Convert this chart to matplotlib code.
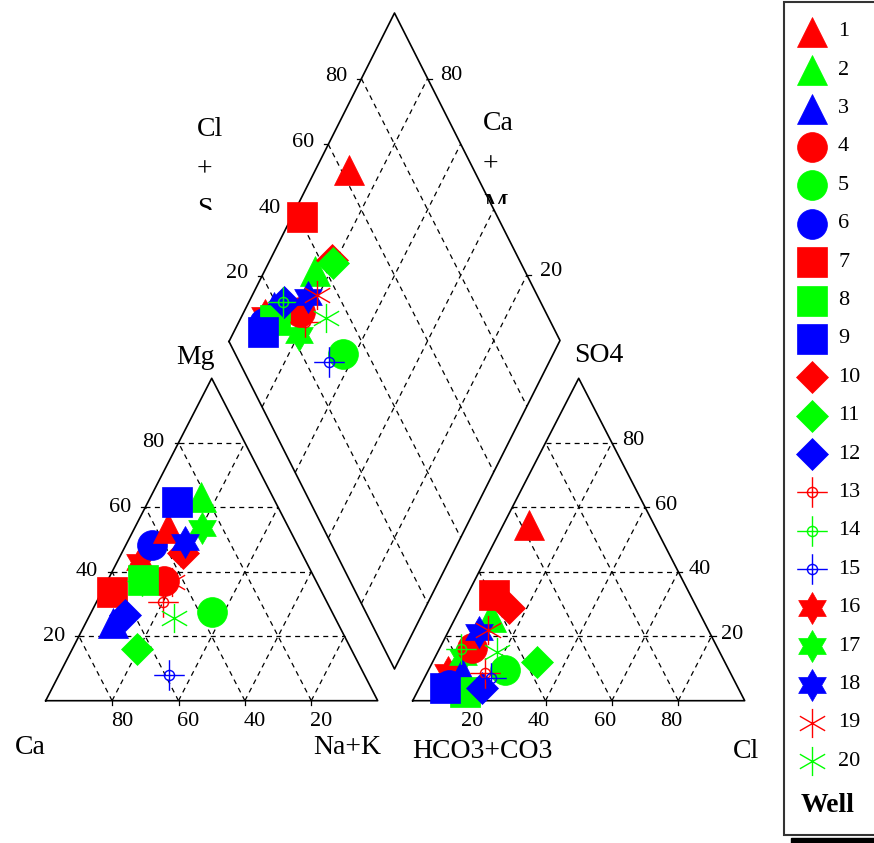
import numpy as np
import matplotlib
matplotlib.use("Agg")
import matplotlib.pyplot as plt
from matplotlib.path import Path
from matplotlib.transforms import Bbox

# Well data (percent of meq)
wells = list(range(1, 21))
mg = [53.5, 63.3, 24.0, 37.0, 27.6, 48.3, 33.8, 37.4, 61.7, 45.7,
      15.9, 26.6, 30.7, 37.0, 8.0, 43.1, 53.5, 49.3, 36.9, 25.6]
nak = [10.2, 15.2, 8.4, 17.0, 36.4, 7.8, 3.0, 10.7, 8.8, 18.6,
       19.7, 10.6, 20.0, 10.4, 33.2, 6.9, 20.3, 17.3, 19.5, 25.9]
so4 = [54.5, 26.0, 8.5, 16.3, 9.5, 5.0, 32.8, 2.8, 3.8, 28.7,
       12.1, 3.8, 8.5, 16.0, 7.0, 9.0, 13.6, 21.4, 21.9, 15.0]
cl = [7.9, 10.5, 10.5, 9.7, 23.0, 8.4, 8.1, 14.4, 7.8, 14.7,
      31.3, 18.9, 17.5, 6.5, 20.0, 6.0, 8.5, 9.3, 11.8, 18.0]
tick_vals = [20, 40, 60, 80]
dia_right_ticks = [20, 80]   # the 40/60 labels are hidden by "Ca + M"

# drawing order of the wells (overlaps)
order = [16, 17, 2, 3, 5, 6, 1, 4, 7, 8, 9, 10, 11, 12, 13, 14, 15, 18, 19, 20]

# ---- layout (pixel space) ----
W, H = 874, 843
LT0, RT0 = (45.7, 700.7), (412.7, 700.7)
TW, TH = 332.0, 322.4
DL, DT, DB = np.array([229.0, 341.5]), np.array([394.5, 13.0]), np.array([394.5, 669.0])
DR = DT + DB - DL

FONT = "Liberation Serif"
colors = ["#ff0000", "#00ff00", "#0000ff"]


def tri_xy(origin, right, top):
    right, top = np.asarray(right) / 100, np.asarray(top) / 100
    return origin[0] + TW * (right + top / 2), origin[1] - TH * top


def dia_xy(a, b):
    a, b = np.asarray(a) / 100, np.asarray(b) / 100
    p = DL[:, None] + np.outer(DT - DL, a) + np.outer(DB - DL, b)
    return p[0], p[1]


# custom markers
ang = np.deg2rad(90 + 30 * np.arange(12))
rad = np.where(np.arange(12) % 2 == 0, 1.0, 0.577)
star = Path(np.c_[rad * np.cos(ang), rad * np.sin(ang)].tolist() + [[0, 1]],
            [Path.MOVETO] + [Path.LINETO] * 11 + [Path.CLOSEPOLY])
cross = Path.make_compound_path(
    Path.circle((0, 0), 0.33),
    Path([(-1, 0), (1, 0)], [Path.MOVETO, Path.LINETO]),
    Path([(0, -1), (0, 1)], [Path.MOVETO, Path.LINETO]))
c30, s30 = np.cos(np.pi / 6), np.sin(np.pi / 6)
aster = Path([(0, -1), (0, 1), (-c30, -s30), (c30, s30), (-c30, s30), (c30, -s30)],
             [Path.MOVETO, Path.LINETO] * 3)

marker_style = {
    "tri": dict(marker="^", ms=22),
    "circ": dict(marker="o", ms=21.5),
    "sq": dict(marker="s", ms=21),
    "dia": dict(marker="D", ms=16),
    "cross": dict(marker=cross, ms=22, mfc="none", mew=1.0),
    "star": dict(marker=star, ms=23),
    "aster": dict(marker=aster, ms=21, mfc="none", mew=1.0),
}
kinds = ["tri", "circ", "sq", "dia", "cross", "star", "aster"]


def style(w):
    k = kinds[(w - 1) // 3]
    st = dict(marker_style[k])
    c = colors[(w - 1) % 3]
    st.setdefault("mfc", c)
    st["mec"] = c
    st.setdefault("mew", 0.5)
    return st


fig = plt.figure(figsize=(W / 100, H / 100), dpi=100)
ax = fig.add_axes([0, 0, 1, 1])
ax.set_xlim(0, W)
ax.set_ylim(H, 0)
ax.axis("off")

edge = dict(color="black", lw=1.2, zorder=2)
grid = dict(color="black", lw=0.9, ls=(0, (4, 3.5)), zorder=1)
tick = dict(color="black", lw=0.9, zorder=2)
TL = 4  # tick length, px

# ---- triangles ----
for org in (LT0, RT0):
    x, y = tri_xy(org, [0, 100, 0, 0], [0, 0, 100, 0])
    ax.plot(x, y, **edge)
    for k in tick_vals:
        x, y = tri_xy(org, [0, 100 - k], [k, k])
        ax.plot(x, y, **grid)
        x, y = tri_xy(org, [k, k], [0, 100 - k])
        ax.plot(x, y, **grid)
        x, y = tri_xy(org, [100 - k, 0], [0, 100 - k])
        ax.plot(x, y, **grid)
        # small ticks on the base
        x, y = tri_xy(org, k, 0)
        ax.plot([x, x], [y, y + TL], **tick)

tk = dict(fontsize=16, family=FONT, ha="center", va="center")
for k in tick_vals:
    # left triangle: Mg on left edge, Ca on base
    x, y = tri_xy(LT0, 0, k)
    ax.plot([x, x - TL], [y, y], **tick)
    ax.text(x - 25, y, str(k), **tk)
    x, y = tri_xy(LT0, 100 - k, 0)
    ax.text(x + 10, y + 21, str(k), **tk)
    # right triangle: SO4 on right edge, Cl on base
    x, y = tri_xy(RT0, 100 - k, k)
    ax.plot([x, x + TL], [y, y], **tick)
    ax.text(x + 21, y - 2, str(k), **tk)
    x, y = tri_xy(RT0, k, 0)
    ax.text(x - 7, y + 21, str(k), **tk)

# ---- diamond ----
x, y = dia_xy([0, 100, 100, 0, 0], [0, 0, 100, 100, 0])
ax.plot(x, y, **edge)
for k in tick_vals:
    x, y = dia_xy([k, k], [0, 100])
    ax.plot(x, y, **grid)
    x, y = dia_xy([0, 100], [k, k])
    ax.plot(x, y, **grid)
    x, y = dia_xy([k], [0])
    ax.plot([x[0], x[0] - TL], [y[0], y[0]], **tick)
    ax.text(x[0] - 25, y[0] - 2, str(k), **tk)
for k in dia_right_ticks:
    x, y = dia_xy([100], [100 - k])
    ax.plot([x[0], x[0] + TL], [y[0], y[0]], **tick)
    ax.text(x[0] + 24, y[0] - 3, str(k), **tk)

# ---- axis names ----
lab = dict(fontsize=20, family=FONT, ha="center", va="center")
ax.text(195, 357, "Mg", **lab)
ax.text(30, 748, "Ca", **lab)
ax.text(347, 748, "Na+K", **lab)
ax.text(599, 355, "SO4", **lab)
ax.text(482, 752, "HCO3+CO3", **lab)
ax.text(746, 752, "Cl", **lab)


def stacked(x, ys, words, clip_y):
    box = Bbox([[x - 20, H - clip_y], [x + 80, H]])
    for yy, wd in zip(ys, words):
        t = ax.text(x, yy, wd, fontsize=20, family=FONT, ha="left", va="center")
        t.set_clip_box(box)
        t.set_clip_on(True)


stacked(197, [130, 170, 210], ["Cl", "+", "S"], 210)
stacked(483, [123, 165, 205], ["Ca", "+", "M"], 204)

# ---- data points ----
xl, yl = tri_xy(LT0, nak, mg)
xr, yr = tri_xy(RT0, cl, so4)
xd, yd = dia_xy(np.add(so4, cl), nak)
for w in order:
    i = w - 1
    st = style(w)
    for px, py in ((xl[i], yl[i]), (xr[i], yr[i]), (xd[i], yd[i])):
        ax.plot([px], [py], ls="none", zorder=3, **st)

# ---- legend ----
ax.add_patch(plt.Rectangle((791, 838), 90, 6, color="black", zorder=4))
ax.add_patch(plt.Rectangle((784, 2), 100, 833, facecolor="white",
                           edgecolor="#333333", lw=1.5, zorder=5))
for w in wells:
    ly = 31.7 + (w - 1) * 38.4
    ax.plot([811.7], [ly], ls="none", zorder=6, **style(w))
    ax.text(838, ly, str(w), fontsize=16, family=FONT, ha="left", va="center", zorder=6)
ax.text(828, 806, "Well", fontsize=20, family=FONT, fontweight="bold",
        ha="center", va="center", zorder=6)

fig.savefig("out.png", dpi=100)
